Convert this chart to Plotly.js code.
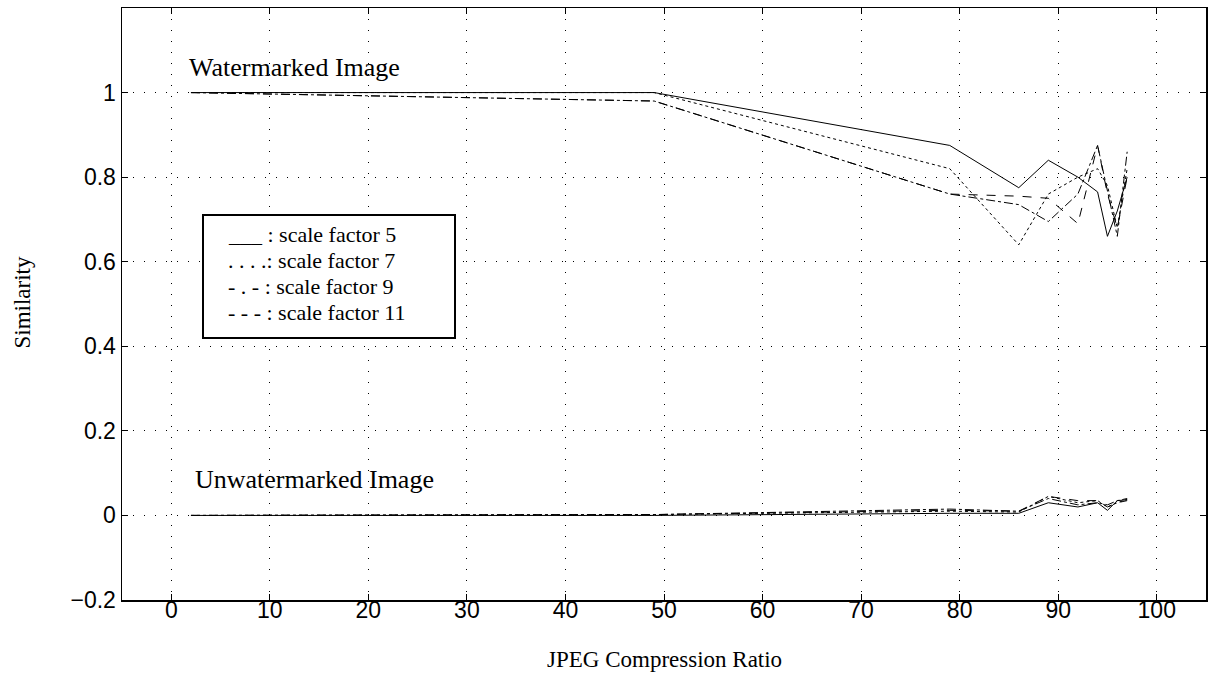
<!DOCTYPE html>
<html>
<head>
<meta charset="utf-8">
<script src="https://cdn.plot.ly/plotly-3.0.1.min.js"></script>
<style>html,body{margin:0;padding:0;background:#fff;}#chart{width:1211px;height:673px;}</style>
</head>
<body>
<div id="chart"></div>
<script>
// JPEG compression ratios
const compression = [2, 49, 79, 86, 89, 92, 94, 95, 96, 97];

// Watermarked image similarity
const wm_sf5  = [1.0, 1.0, 0.875, 0.775, 0.84, 0.80, 0.765, 0.66, 0.72, 0.80];
const wm_sf7  = [1.0, 1.0, 0.82, 0.64, 0.76, 0.80, 0.82, 0.78, 0.68, 0.82];
const wm_sf9  = [1.0, 0.98, 0.76, 0.735, 0.695, 0.76, 0.875, 0.77, 0.66, 0.86];
const wm_sf11 = [1.0, 0.98, 0.76, 0.755, 0.75, 0.69, 0.875, 0.76, 0.68, 0.80];

// Unwatermarked image similarity
const un_sf5  = [0.0, 0.0, 0.005, 0.005, 0.03, 0.02, 0.03, 0.012, 0.035, 0.037];
const un_sf7  = [0.0, 0.002, 0.01, 0.008, 0.045, 0.03, 0.035, 0.02, 0.03, 0.038];
const un_sf9  = [0.0, 0.002, 0.015, 0.01, 0.04, 0.025, 0.03, 0.025, 0.035, 0.04];
const un_sf11 = [0.0, 0.002, 0.012, 0.01, 0.045, 0.035, 0.035, 0.02, 0.03, 0.035];

const seriesNames = ['scale factor 5', 'scale factor 7', 'scale factor 9', 'scale factor 11'];
const dashes = ['solid', 'dot', 'dashdot', 'dash'];
const wmSeries = [wm_sf5, wm_sf7, wm_sf9, wm_sf11];
const unSeries = [un_sf5, un_sf7, un_sf9, un_sf11];

const xTicks = [0, 10, 20, 30, 40, 50, 60, 70, 80, 90, 100];
const yTicks = [-0.2, 0, 0.2, 0.4, 0.6, 0.8, 1];
const yTickText = ['\u22120.2', '0', '0.2', '0.4', '0.6', '0.8', '1'];
const legendLines = ['___ : scale factor 5', '. . . .: scale factor 7', '- . - : scale factor 9', '- - - : scale factor 11'];

const traces = [];
[wmSeries, unSeries].forEach(group => {
  group.forEach((ys, i) => {
    traces.push({
      x: compression, y: ys, type: 'scatter', mode: 'lines',
      name: seriesNames[i], showlegend: false,
      line: {color: '#000', width: 1, dash: dashes[i]}
    });
  });
});

const serif = 'Liberation Serif, Times New Roman, serif';
const sans = 'Liberation Sans, Arial, sans-serif';

const axisCommon = {
  showline: true, linecolor: '#000', linewidth: 1.5, mirror: 'ticks',
  ticks: 'inside', ticklen: 6, tickcolor: '#000', tickwidth: 1,
  showgrid: true, gridcolor: '#000', gridwidth: 1, griddash: '1px,10px',
  zeroline: false,
  tickfont: {family: sans, size: 23, color: '#000'}
};

// plot area in pixels: left 122, right 1206, top 8, bottom 600
const annotations = [
  {xref: 'x', yref: 'y', x: 1.6, y: 1.06, xanchor: 'left', yanchor: 'middle', showarrow: false,
   text: 'Watermarked Image', font: {family: serif, size: 26, color: '#000'}},
  {xref: 'x', yref: 'y', x: 2.2, y: 0.085, xanchor: 'left', yanchor: 'middle', showarrow: false,
   text: 'Unwatermarked Image', font: {family: serif, size: 26, color: '#000'}},
  {xref: 'paper', yref: 'paper', x: 0.5, y: -0.1, xanchor: 'center', yanchor: 'middle', showarrow: false,
   text: 'JPEG Compression Ratio', font: {family: serif, size: 23, color: '#000'}},
  {xref: 'paper', yref: 'paper', x: -0.092, y: 0.503, xanchor: 'center', yanchor: 'middle', showarrow: false,
   textangle: -90, text: 'Similarity', font: {family: serif, size: 23, color: '#000'}}
];
const legendY = [234, 260, 286, 312];
legendLines.forEach((t, i) => {
  annotations.push({xref: 'paper', yref: 'paper', x: (227 - 122) / 1084, y: (600 - legendY[i]) / 592,
    xanchor: 'left', yanchor: 'middle', showarrow: false, align: 'left', borderpad: 0,
    text: t, font: {family: serif, size: 22, color: '#000'}});
});

const layout = {
  width: 1211, height: 673,
  margin: {l: 122, r: 5, t: 8, b: 73},
  paper_bgcolor: '#fff', plot_bgcolor: '#fff',
  showlegend: false,
  xaxis: Object.assign({}, axisCommon, {range: [-5, 105], tickvals: xTicks, ticklabelstandoff: -11}),
  yaxis: Object.assign({}, axisCommon, {range: [-0.2, 1.2], tickvals: yTicks, ticktext: yTickText}),
  shapes: [
    {type: 'rect', xref: 'paper', yref: 'paper',
     x0: (203 - 122) / 1084, x1: (455 - 122) / 1084, y0: (600 - 338) / 592, y1: (600 - 215) / 592,
     line: {color: '#000', width: 2}, fillcolor: '#fff', layer: 'above'}
  ],
  annotations: annotations
};

Plotly.newPlot('chart', traces, layout, {staticPlot: true, displayModeBar: false});
</script>
</body>
</html>
